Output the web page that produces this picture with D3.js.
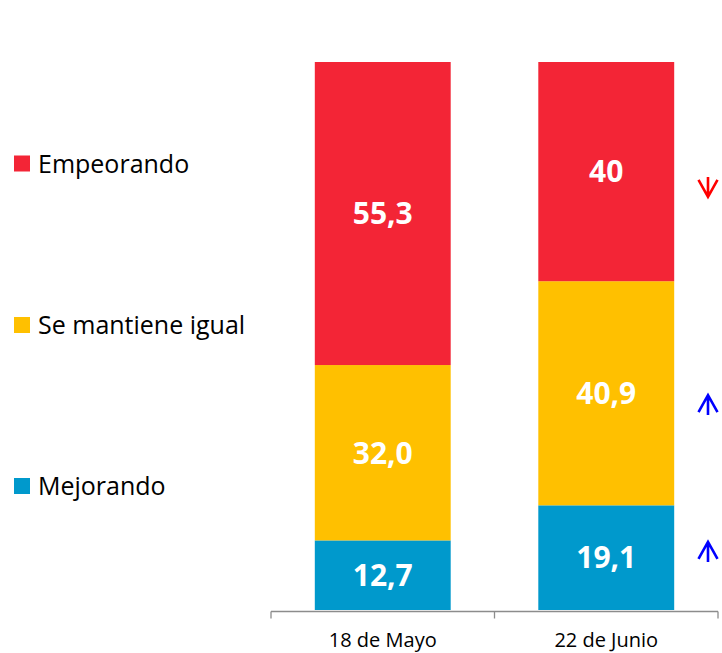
<!DOCTYPE html>
<html>
<head>
<meta charset="utf-8">
<script src="https://cdn.jsdelivr.net/npm/d3@7"></script>
<style>
  html, body { margin: 0; padding: 0; background: #fff; }
  svg { display: block; }
</style>
</head>
<body>
<svg id="chart" width="722" height="653"></svg>
<script>
// Survey dates (x categories)
const categories = ["18 de Mayo", "22 de Junio"];
// Stacked series, bottom to top
const seriesNames = ["Mejorando", "Se mantiene igual", "Empeorando"];
const mejorando = [12.7, 19.1];
const seMantiene = [32.0, 40.9];
const empeorando = [55.3, 40];
// Value labels as printed
const labelMejorando = ["12,7", "19,1"];
const labelSeMantiene = ["32,0", "40,9"];
const labelEmpeorando = ["55,3", "40"];
// Trend markers next to the latest bar (value = vertical anchor in chart units)
const trendSeries = ["Empeorando", "Se mantiene igual", "Mejorando"];
const trendDir = ["down", "up", "up"];
const trendAt = [77.2, 37.4, 10.6];

const colors = {
  "Mejorando": "#0099CC",
  "Se mantiene igual": "#FFC000",
  "Empeorando": "#F32536"
};

const svg = d3.select("#chart");
const plot = { left: 271, right: 718, top: 62, bottom: 610 };

const rows = categories.map((c, i) => ({
  cat: c,
  "Mejorando": mejorando[i],
  "Se mantiene igual": seMantiene[i],
  "Empeorando": empeorando[i]
}));
const labels = {
  "Mejorando": labelMejorando,
  "Se mantiene igual": labelSeMantiene,
  "Empeorando": labelEmpeorando
};

const x = d3.scaleBand().domain(categories).range([plot.left, plot.right]).padding(0);
const y = d3.scaleLinear().domain([0, 100]).range([plot.bottom, plot.top]);
const barW = x.bandwidth() * 0.608;

const stack = d3.stack().keys(seriesNames)(rows);

const g = svg.append("g");
stack.forEach(layer => {
  const key = layer.key;
  const lg = g.append("g").attr("class", "series");
  lg.selectAll("rect").data(layer).join("rect")
    .attr("x", d => x(d.data.cat) + (x.bandwidth() - barW) / 2)
    .attr("width", barW)
    .attr("y", d => y(d[1]))
    .attr("height", d => y(d[0]) - y(d[1]))
    .attr("fill", colors[key]);
  lg.selectAll("text").data(layer).join("text")
    .attr("x", d => x(d.data.cat) + x.bandwidth() / 2)
    .attr("y", d => (y(d[0]) + y(d[1])) / 2)
    .attr("dy", "0.36em")
    .attr("text-anchor", "middle")
    .attr("fill", "#fff")
    .attr("font-family", "'Open Sans', sans-serif")
    .attr("font-weight", "bold")
    .attr("font-size", 30)
    .text((d, i) => labels[key][i]);
});

// Category axis with ticks at band boundaries
const axisY = plot.bottom + 1.5;
const axis = svg.append("g").attr("stroke", "#8c8c8c").attr("stroke-width", 1.3);
axis.append("line")
  .attr("x1", plot.left).attr("x2", plot.right)
  .attr("y1", axisY).attr("y2", axisY);
const boundaries = categories.map(c => x(c)).concat([x(categories[categories.length - 1]) + x.bandwidth()]);
axis.selectAll("line.tick").data(boundaries).join("line")
  .attr("class", "tick")
  .attr("x1", d => d).attr("x2", d => d)
  .attr("y1", axisY).attr("y2", axisY + 7);

svg.append("g").selectAll("text").data(categories).join("text")
  .attr("x", d => x(d) + x.bandwidth() / 2)
  .attr("y", 647)
  .attr("text-anchor", "middle")
  .attr("font-family", "'Open Sans', sans-serif")
  .attr("font-size", 20)
  .attr("fill", "#000")
  .text(d => d);

// Legend (top to bottom: Empeorando, Se mantiene igual, Mejorando)
const legendOrder = seriesNames.slice().reverse();
const legendCenters = [163.5, 325, 486];
const leg = svg.append("g");
legendOrder.forEach((name, i) => {
  const cy = legendCenters[i];
  leg.append("rect")
    .attr("x", 14).attr("y", cy - 8)
    .attr("width", 16).attr("height", 16)
    .attr("fill", colors[name]);
  leg.append("text")
    .attr("x", 38).attr("y", cy + 9)
    .attr("font-family", "'Open Sans', sans-serif")
    .attr("font-size", 25)
    .attr("fill", "#000")
    .text(name);
});

// Trend arrows beside the latest survey
const ax = 708;
const arrows = svg.append("g");
trendSeries.forEach((name, i) => {
  const cy = y(trendAt[i]);
  const up = trendDir[i] === "up";
  const col = up ? "#0000FF" : "#FF0000";
  const tip = up ? cy - 10 : cy + 10;
  const tail = up ? cy + 10 : cy - 10;
  const armEnd = up ? tip + 17 : tip - 17;
  arrows.append("path")
    .attr("d", `M${ax},${tail} L${ax},${tip} M${ax - 9.5},${armEnd} L${ax},${tip} L${ax + 9.5},${armEnd}`)
    .attr("fill", "none")
    .attr("stroke", col)
    .attr("stroke-width", 2.6)
    .attr("stroke-linejoin", "miter");
});
</script>
</body>
</html>
